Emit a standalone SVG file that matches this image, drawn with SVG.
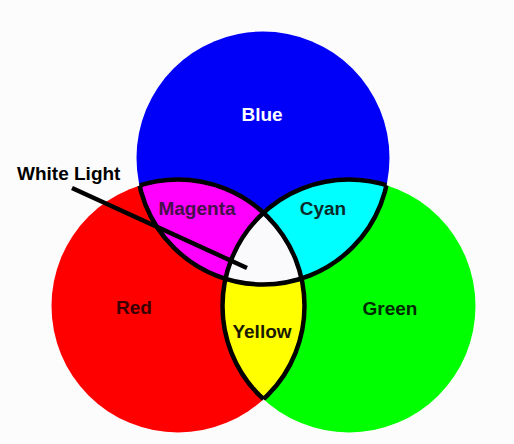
<svg xmlns="http://www.w3.org/2000/svg" width="514" height="444" viewBox="0 0 514 444">
<style>
.lbl{font-family:"Liberation Sans",Arial,Helvetica,sans-serif;font-weight:bold;font-size:19px;text-anchor:middle}
.arc{fill:none;stroke:#000;stroke-width:4.5}
</style>
<defs>
<clipPath id="cR"><circle cx="178" cy="306" r="126.5"/></clipPath>
<clipPath id="cG"><circle cx="349" cy="306" r="126.5"/></clipPath>
<clipPath id="cB"><circle cx="263" cy="158" r="126.5"/></clipPath>
<clipPath id="cBG"><circle cx="263" cy="158" r="126.5"/><circle cx="349" cy="306" r="126.5"/></clipPath>
<clipPath id="cRG"><circle cx="178" cy="306" r="126.5"/><circle cx="349" cy="306" r="126.5"/></clipPath>
<clipPath id="cRB"><circle cx="178" cy="306" r="126.5"/><circle cx="263" cy="158" r="126.5"/></clipPath>
</defs>
<rect width="514" height="444" fill="#fdfcfd"/>
<g id="red"><circle cx="178" cy="306" r="126.5" fill="#ff0000"/></g>
<g id="green"><circle cx="349" cy="306" r="126.5" fill="#00ff00"/></g>
<g id="blue"><circle cx="263" cy="158" r="126.5" fill="#0000f8"/></g>
<g id="magenta"><circle cx="263" cy="158" r="126.5" fill="#ff00ff" clip-path="url(#cR)"/></g>
<g id="cyan"><circle cx="263" cy="158" r="126.5" fill="#00ffff" clip-path="url(#cG)"/></g>
<g id="yellow"><circle cx="178" cy="306" r="126.5" fill="#ffff00" clip-path="url(#cG)"/></g>
<g id="white"><g clip-path="url(#cG)"><circle cx="263" cy="158" r="126.5" fill="#fafafc" clip-path="url(#cR)"/></g></g>
<g id="outlines">
<circle class="arc" cx="178" cy="306" r="126.5" clip-path="url(#cBG)"/>
<circle class="arc" cx="349" cy="306" r="126.5" clip-path="url(#cRB)"/>
<circle class="arc" cx="263" cy="158" r="126.5" clip-path="url(#cRG)"/>
</g>
<g id="connectors">
<line x1="72" y1="188" x2="247" y2="268" stroke="#000" stroke-width="4.5"/>
</g>
<g id="labels">
<text class="lbl" x="262" y="121" fill="#ffffff">Blue</text>
<text class="lbl" x="17" y="180" fill="#000" style="text-anchor:start">White Light</text>
<text class="lbl" x="197" y="215" fill="#45104a">Magenta</text>
<text class="lbl" x="323" y="215" fill="#0a2a2a">Cyan</text>
<text class="lbl" x="134" y="314" fill="#3a0000">Red</text>
<text class="lbl" x="390" y="315" fill="#002a00">Green</text>
<text class="lbl" x="262" y="338" fill="#1a1a00">Yellow</text>
</g>
</svg>
